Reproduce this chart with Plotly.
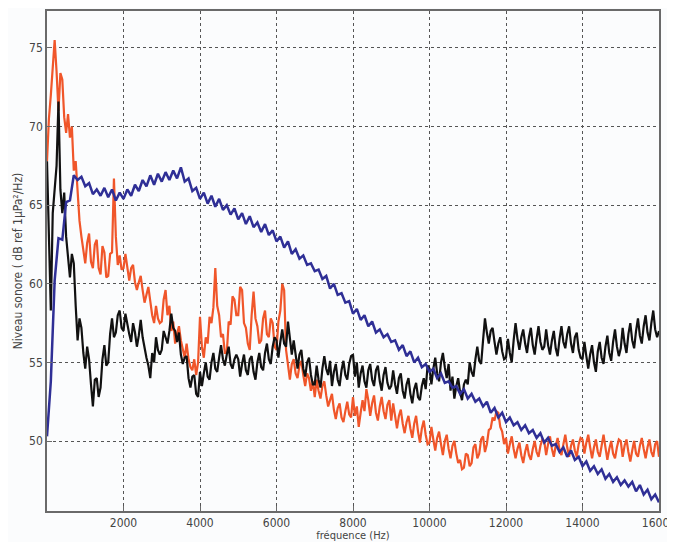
import plotly.graph_objects as go

freq_blue = [i * 100 for i in range(161)]
freq_fine = [i * 50 for i in range(321)]

blue = [
    50.3, 53.8, 60.2, 62.9, 62.8, 65.2, 65.3, 66.9, 66.6, 66.8,
    66.2, 66.4, 65.7, 66.0, 65.6, 66.1, 65.5, 66.0, 65.3, 65.8,
    65.4, 66.0, 65.6, 66.3, 65.9, 66.6, 66.2, 66.9, 66.3, 67.0,
    66.5, 67.1, 66.6, 67.2, 66.7, 67.4, 66.5, 66.7, 65.9, 66.1,
    65.4, 65.8, 65.1, 65.6, 64.9, 65.4, 64.7, 65.0, 64.4, 64.8,
    64.1, 64.5, 63.8, 64.3, 63.6, 63.9, 63.3, 63.8, 63.1, 63.4,
    62.7, 63.0, 62.3, 62.7, 61.9, 62.2, 61.6, 61.8, 61.2, 61.3,
    60.8, 60.9, 60.3, 60.5, 59.7, 60.0, 59.3, 59.4, 58.8, 58.9,
    58.1, 58.4, 57.7, 58.0, 57.3, 57.6, 56.9, 57.1, 56.6, 56.8,
    56.3, 56.4, 55.8, 56.1, 55.4, 55.7, 55.0, 55.3, 54.7, 54.9,
    54.4, 54.6, 54.0, 54.3, 53.7, 53.8, 53.4, 53.5, 53.0, 53.3,
    52.7, 53.0, 52.5, 52.7, 52.2, 52.5, 51.8, 52.1, 51.5, 51.8,
    51.2, 51.5, 51.0, 51.2, 50.7, 51.0, 50.5, 50.7, 50.2, 50.5,
    49.9, 50.2, 49.7, 49.8, 49.3, 49.6, 49.0, 49.4, 48.8, 49.0,
    48.4, 48.7, 48.1, 48.4, 47.9, 48.2, 47.6, 47.9, 47.4, 47.7,
    47.2, 47.5, 47.1, 47.4, 46.8, 47.2, 46.6, 46.9, 46.3, 46.6,
    46.1,
]

black = [
    67.8, 62.0, 58.3, 64.5, 66.2, 67.5, 71.6, 66.0, 64.5, 65.8, 63.0, 61.8, 60.4, 61.9, 61.3, 58.6, 56.4, 57.8, 57.2, 55.6,
    54.6, 56.0, 55.2, 53.6, 52.2, 53.9, 54.0, 52.8, 53.4, 55.2, 56.1, 54.8, 55.0, 56.8, 57.8, 56.6, 56.9, 58.0, 58.3, 57.2,
    57.0, 58.1, 57.4, 56.8, 56.3, 57.5, 56.9, 56.0, 56.7, 57.7, 56.6, 55.9, 55.3, 54.8, 54.0, 55.6, 55.0, 56.6, 55.8, 55.5,
    55.8, 57.0, 56.5, 56.2, 57.0, 58.1, 57.2, 57.0, 56.3, 56.9, 55.5, 54.9, 55.3, 55.4, 54.0, 53.4, 54.1, 54.2, 53.0, 52.8,
    54.4, 53.5, 54.3, 55.0, 54.1, 53.9, 55.0, 55.6, 54.6, 54.4, 55.3, 56.1, 55.2, 54.8, 55.5, 56.0, 54.9, 54.6, 55.2, 55.5,
    55.2, 54.1, 54.9, 55.5, 54.5, 54.2, 55.2, 55.4, 54.4, 53.9, 55.0, 55.6, 54.7, 54.5, 55.6, 56.2, 55.2, 54.9, 56.0, 56.6,
    56.4, 55.3, 56.3, 57.1, 56.2, 56.0, 57.6, 56.3, 55.5, 56.4, 55.4, 54.6, 55.5, 55.8, 54.6, 54.1, 55.0, 55.3, 54.2, 53.6,
    53.6, 54.8, 53.9, 53.4, 54.6, 55.4, 54.6, 54.2, 55.1, 53.5, 54.4, 54.9, 53.9, 53.5, 54.5, 55.1, 54.2, 53.9, 54.9, 55.4,
    55.5, 54.1, 55.0, 53.4, 54.3, 54.8, 53.8, 53.4, 54.5, 54.9, 53.9, 53.5, 54.5, 54.8, 53.8, 53.2, 54.2, 54.7, 53.7, 53.3,
    53.5, 54.5, 53.6, 53.0, 54.0, 54.3, 53.2, 52.7, 53.6, 54.0, 53.0, 52.4, 53.3, 53.7, 52.8, 52.6, 53.5, 54.0, 53.3, 54.8,
    54.6, 53.6, 54.6, 55.3, 54.3, 53.8, 55.0, 55.6, 54.7, 54.0, 54.9, 53.2, 54.1, 52.7, 53.5, 54.0, 53.1, 52.6, 53.6, 53.9,
    53.6, 55.0, 54.4, 54.1, 55.2, 56.0, 55.1, 54.9, 56.4, 57.8, 56.9, 56.2, 57.0, 57.2, 56.3, 55.5, 56.2, 56.6, 55.7, 55.2,
    55.3, 56.5, 55.6, 55.0, 56.4, 57.5, 56.5, 55.8, 56.6, 57.1, 56.2, 55.6, 56.6, 57.2, 56.1, 55.5, 56.5, 57.3, 56.3, 55.8,
    56.0, 57.1, 56.1, 55.5, 56.4, 57.0, 55.9, 55.4, 56.5, 57.3, 56.3, 55.9, 56.8, 57.3, 56.2, 55.6, 56.6, 56.9, 55.8, 55.3,
    55.2, 56.3, 55.4, 54.6, 55.5, 56.1, 55.0, 54.4, 55.7, 56.3, 55.3, 54.9, 56.0, 56.7, 55.6, 55.1, 56.3, 57.1, 56.0, 55.4,
    55.9, 57.2, 56.2, 55.6, 56.8, 57.5, 56.4, 55.9, 57.0, 57.8, 56.7, 56.2, 57.3, 58.0, 56.9, 56.4, 57.5, 58.3, 57.1, 56.6,
    57.0,
]

orange = [
    67.8, 70.5, 72.0, 74.0, 75.5, 73.5, 71.0, 73.4, 73.0, 70.6, 69.6, 70.8, 69.3, 70.0, 67.2, 67.8, 65.5, 64.0, 63.0, 62.2,
    61.3, 62.6, 63.2, 61.4, 61.0, 62.5, 62.8, 61.0, 60.6, 62.4, 62.0, 60.4, 60.5, 61.9, 62.0, 66.7, 63.0, 61.2, 61.8, 60.9,
    61.0, 61.9, 60.9, 60.2, 61.0, 61.2, 60.1, 59.6, 60.1, 60.5, 59.6, 58.8, 59.3, 59.8, 58.9, 58.0, 57.5, 58.6, 57.8, 57.5,
    57.6, 59.0, 59.6, 58.0, 58.6, 57.0, 57.6, 56.2, 56.8, 57.3, 56.4, 55.8, 55.3, 56.2, 55.2, 54.7, 54.5, 55.2, 54.2, 55.0,
    57.9, 56.0, 55.3, 56.6, 56.2, 57.9, 57.5, 58.5, 61.0, 58.6, 58.0, 56.6, 56.8, 55.6, 55.6, 57.6, 57.4, 59.2, 59.0, 58.0,
    58.0, 59.8, 59.6, 57.5, 57.2, 56.2, 55.8, 58.0, 59.5, 57.8, 57.3, 56.2, 56.4, 57.8, 58.3, 56.8, 56.6, 57.8, 57.5, 56.0,
    55.8, 57.6, 58.3, 60.0, 59.6, 55.8, 55.0, 53.9, 54.9, 55.2, 54.3, 54.0, 54.8, 55.1, 54.2, 53.5, 54.3, 54.0, 53.2, 53.8,
    52.8, 53.9, 53.2, 52.7, 53.5, 53.8, 52.9, 52.2, 52.6, 53.0, 52.0, 51.4, 52.1, 52.4, 51.5, 51.2, 51.9, 52.5, 51.7, 51.5,
    52.8, 51.6, 52.2, 50.9, 51.8, 52.6, 51.9, 53.3, 52.6, 51.6, 52.4, 52.9, 51.8, 51.3, 52.2, 52.8, 51.9, 51.4, 52.3, 52.6,
    51.3, 52.4, 51.6, 50.8, 51.6, 52.0, 51.1, 50.5, 51.2, 51.6, 50.8, 50.2, 51.1, 51.6, 50.6, 49.9, 50.8, 51.3, 50.4, 49.8,
    49.9, 50.9, 50.1, 49.4, 50.2, 50.6, 49.8, 49.1, 50.0, 50.4, 49.5, 48.9, 49.7, 50.0, 49.2, 48.6, 48.8, 48.2, 48.3, 49.2,
    49.1, 48.4, 48.6, 49.6, 49.8, 48.9, 49.2, 50.1, 50.3, 49.3, 49.8, 50.7, 50.8, 51.5, 51.3, 51.9, 51.8, 50.9, 50.6, 49.8,
    50.2, 49.2, 49.8, 50.3, 49.5, 48.9, 49.5, 49.9, 49.1, 48.6, 49.3, 49.8, 49.1, 48.8, 49.5, 50.0, 49.3, 49.0, 49.7, 50.1,
    50.0, 49.1, 49.8, 50.3, 49.5, 49.0, 49.7, 50.2, 49.4, 49.1, 49.8, 50.4, 49.6, 49.0, 49.7, 50.1, 49.4, 49.0, 49.8, 50.2,
    50.1, 49.2, 49.9, 50.4, 49.6, 48.9, 49.6, 50.1, 49.3, 49.0, 49.7, 50.4, 49.6, 48.8, 49.5, 50.0, 49.2, 48.9, 49.6, 50.1,
    50.0, 49.0, 49.7, 50.1, 49.3, 48.7, 49.4, 50.0, 49.2, 49.0, 49.7, 50.2, 49.5, 48.9, 49.6, 50.1, 49.3, 49.0, 49.8, 50.0,
    49.0,
]

x_ticks = [2000, 4000, 6000, 8000, 10000, 12000, 14000, 16000]
y_ticks = [50, 55, 60, 65, 70, 75]

font_fam = "Liberation Sans Narrow, DejaVu Sans Condensed, Arial Narrow, sans-serif"

fig = go.Figure()
fig.add_trace(go.Scatter(x=freq_fine, y=orange, mode="lines",
                         line=dict(color="#f0562a", width=2.2), showlegend=False))
fig.add_trace(go.Scatter(x=freq_fine, y=black, mode="lines",
                         line=dict(color="#111111", width=2.2), showlegend=False))
fig.add_trace(go.Scatter(x=freq_blue, y=blue, mode="lines",
                         line=dict(color="#2f2f96", width=2.5), showlegend=False))

axis_common = dict(
    showline=True, linecolor="#6a6a6a", linewidth=1.5, mirror=True,
    showgrid=True, gridcolor="#555555", gridwidth=1, griddash="dot",
    ticks="inside", ticklen=5, tickcolor="#6a6a6a",
    zeroline=False, automargin=False,
    tickfont=dict(family=font_fam, size=12, color="#444444"),
)

# the page body adds an 8 px offset, so the figure is sized to fit the window
fig.update_layout(
    width=667, height=534,
    margin=dict(l=39, r=16, t=3, b=31),
    paper_bgcolor="#fbfcfd", plot_bgcolor="#fbfcfd",
    xaxis=dict(range=[0, 16000], tickvals=x_ticks, ticktext=[str(v) for v in x_ticks],
               ticklabeloverflow="allow",
               title=dict(text="fréquence (Hz)", standoff=2,
                          font=dict(family=font_fam, size=11, color="#444444")),
               **axis_common),
    yaxis=dict(range=[45.55, 77.35], tickvals=y_ticks, ticktext=[str(v) for v in y_ticks],
               title=dict(text="Niveau sonore ( dB ref 1µPa²/Hz)", standoff=4,
                          font=dict(family=font_fam, size=12, color="#444444")),
               **axis_common),
)

fig.write_html("out.html")
